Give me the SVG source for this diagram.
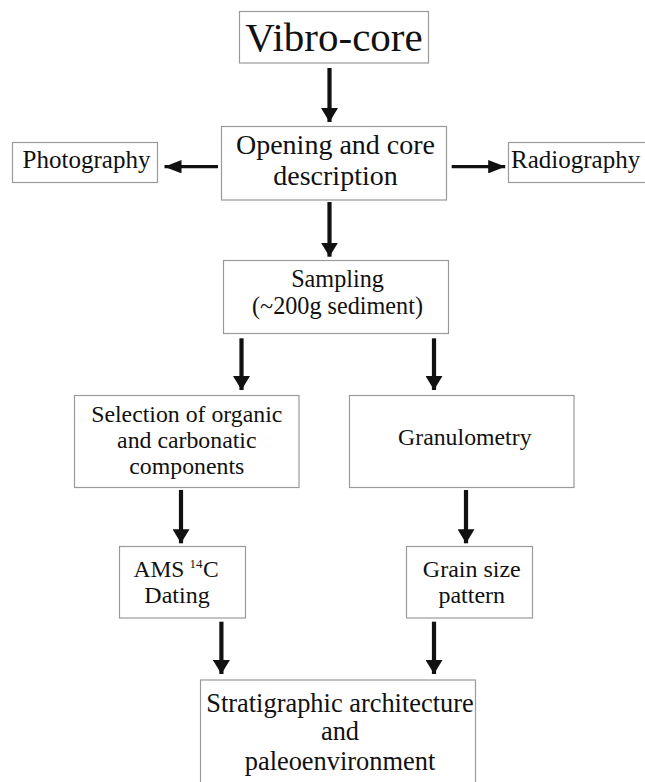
<svg xmlns="http://www.w3.org/2000/svg" width="645" height="782" viewBox="0 0 645 782">
<style>
  .box { fill: #ffffff; stroke: #9a9a9a; stroke-width: 1.2; }
  .t { font-family: "Liberation Serif", "Times New Roman", serif; fill: #111111; }
  .c { text-anchor: middle; }
  .v { stroke: #111111; stroke-width: 4.2; fill: none; marker-end: url(#ahv); }
  .h { stroke: #111111; stroke-width: 3.2; fill: none; marker-end: url(#ahh); }
</style>
<defs>
  <marker id="ahv" viewBox="0 0 14 17" refX="14" refY="8.5" markerWidth="14" markerHeight="17" markerUnits="userSpaceOnUse" orient="auto">
    <path d="M0,0 L14,8.5 L0,17 z" fill="#111111"/>
  </marker>
  <marker id="ahh" viewBox="0 0 17 13.4" refX="17" refY="6.7" markerWidth="17" markerHeight="13.4" markerUnits="userSpaceOnUse" orient="auto">
    <path d="M0,0 L17,6.7 L0,13.4 z" fill="#111111"/>
  </marker>
</defs>
<rect width="645" height="782" fill="#ffffff"/>

<g id="vibro-core">
  <rect class="box" x="239.5" y="11.5" width="189" height="51.5"/>
  <text class="t c" x="334" y="50.5" font-size="41">Vibro-core</text>
</g>

<g id="opening">
  <rect class="box" x="221.5" y="126.5" width="225" height="73.5"/>
  <text class="t c" x="335.5" y="154" font-size="28">Opening and core</text>
  <text class="t c" x="335.5" y="185" font-size="28">description</text>
</g>

<g id="photography">
  <rect class="box" x="12.5" y="142.5" width="145" height="40"/>
  <text class="t c" x="86.5" y="167.5" font-size="25">Photography</text>
</g>

<g id="radiography">
  <rect class="box" x="508.5" y="142.5" width="160" height="40"/>
  <text class="t" x="511" y="167.5" font-size="25">Radiography</text>
</g>

<g id="sampling">
  <rect class="box" x="223.5" y="260.5" width="225" height="73"/>
  <text class="t c" x="337.5" y="286.5" font-size="24.2">Sampling</text>
  <text class="t c" x="337.5" y="313.5" font-size="24.2">(~200g sediment)</text>
</g>

<g id="selection">
  <rect class="box" x="74.5" y="395.5" width="224.5" height="92"/>
  <text class="t c" x="186.8" y="421.5" font-size="23.8">Selection of organic</text>
  <text class="t c" x="186.8" y="448" font-size="23.8">and carbonatic</text>
  <text class="t c" x="186.8" y="473.5" font-size="23.8">components</text>
</g>

<g id="granulometry">
  <rect class="box" x="349.5" y="395.5" width="224.5" height="92"/>
  <text class="t c" x="464.8" y="445" font-size="23.8">Granulometry</text>
</g>

<g id="ams">
  <rect class="box" x="119.5" y="546.5" width="126" height="71.5"/>
  <text class="t" y="576.5" font-size="23.5"><tspan x="133.5">AMS</tspan><tspan x="189.5" y="567.5" font-size="13">14</tspan><tspan x="203" y="576.5">C</tspan></text>
  <text class="t c" x="177" y="602.5" font-size="24">Dating</text>
</g>

<g id="grain-size">
  <rect class="box" x="406.5" y="546.5" width="126" height="71.5"/>
  <text class="t c" x="471.8" y="576.5" font-size="24">Grain size</text>
  <text class="t c" x="471.8" y="602.5" font-size="24">pattern</text>
</g>

<g id="stratigraphic">
  <rect class="box" x="200.5" y="680" width="275" height="120"/>
  <text class="t c" x="340" y="711.5" font-size="26.4">Stratigraphic architecture</text>
  <text class="t c" x="340" y="740" font-size="26.4">and</text>
  <text class="t c" x="340" y="770" font-size="26.4">paleoenvironment</text>
</g>

<g id="connectors">
  <line class="v" x1="329.5" y1="68" x2="329.5" y2="122"/>
  <line class="h" x1="218" y1="166.7" x2="164.5" y2="166.7"/>
  <line class="h" x1="451.7" y1="166.7" x2="505.2" y2="166.7"/>
  <line class="v" x1="329.5" y1="202" x2="329.5" y2="256.7"/>
  <line class="v" x1="241.5" y1="338.3" x2="241.5" y2="390"/>
  <line class="v" x1="434" y1="338.3" x2="434" y2="390"/>
  <line class="v" x1="181" y1="490" x2="181" y2="543.3"/>
  <line class="v" x1="466" y1="490" x2="466" y2="543.3"/>
  <line class="v" x1="221.4" y1="621.7" x2="221.4" y2="674"/>
  <line class="v" x1="434" y1="621.7" x2="434" y2="674"/>
</g>
</svg>
